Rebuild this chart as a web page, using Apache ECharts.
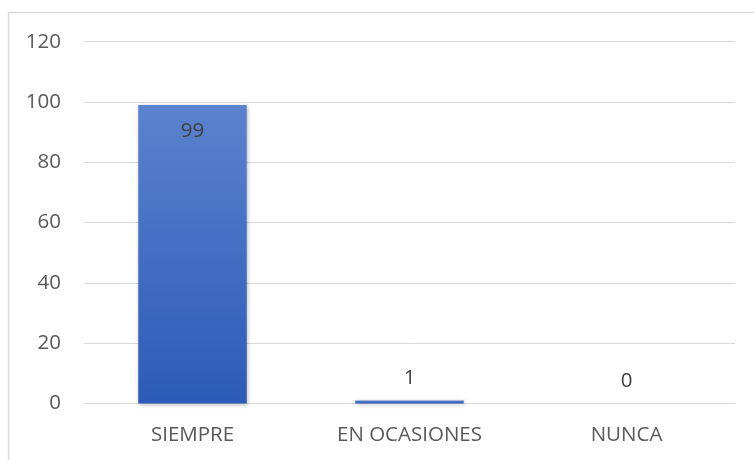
<!DOCTYPE html>
<html><head><meta charset="utf-8">
<script src="https://cdn.jsdelivr.net/npm/echarts@6/dist/echarts.min.js"></script>
<style>html,body{margin:0;padding:0;background:#fff}#c{width:754px;height:460px}</style>
</head><body><div id="c"></div>
<script>
const categories = ["SIEMPRE", "EN OCASIONES", "NUNCA"];
const values = [99, 1, 0];
const yTicks = [0, 20, 40, 60, 80, 100, 120];

const chart = echarts.init(document.getElementById('c'));
const font = '"Open Sans", sans-serif';
chart.setOption({
  animation: false,
  graphic: [{
    type: 'rect', shape: {x: 8.5, y: 12.5, width: 800, height: 500},
    style: {fill: 'none', stroke: '#d9d9d9', lineWidth: 1.5}, silent: true
  }],
  grid: {left: 84, right: 19, top: 41.7, bottom: 56.5, containLabel: false},
  xAxis: {
    type: 'category', data: categories,
    axisLine: {show: true, lineStyle: {color: '#d9d9d9', width: 1}},
    axisTick: {show: false},
    axisLabel: {color: '#595959', fontSize: 20.5, fontFamily: font, margin: 21}
  },
  yAxis: {
    type: 'value', min: yTicks[0], max: yTicks[yTicks.length - 1], interval: 20,
    axisLine: {show: false}, axisTick: {show: false},
    splitLine: {lineStyle: {color: '#d9d9d9', width: 1}},
    axisLabel: {color: '#595959', fontSize: 20.5, fontFamily: font, margin: 23}
  },
  series: [{
    type: 'bar', barWidth: '50%',
    data: values.map((v, i) => i === 0 ? {value: v, label: {position: 'insideTop', distance: 16}} : v),
    itemStyle: {
      color: new echarts.graphic.LinearGradient(0, 0, 0, 1, [
        {offset: 0, color: '#5b82cd'}, {offset: 1, color: '#2c5bb7'}
      ]),
      shadowColor: 'rgba(0,0,0,0.25)', shadowBlur: 4, shadowOffsetX: 1, shadowOffsetY: 1
    },
    label: {
      show: true, fontSize: 20.5, fontFamily: font, color: '#404040',
      position: 'top', distance: 12
    }
  }]
});
</script></body></html>
